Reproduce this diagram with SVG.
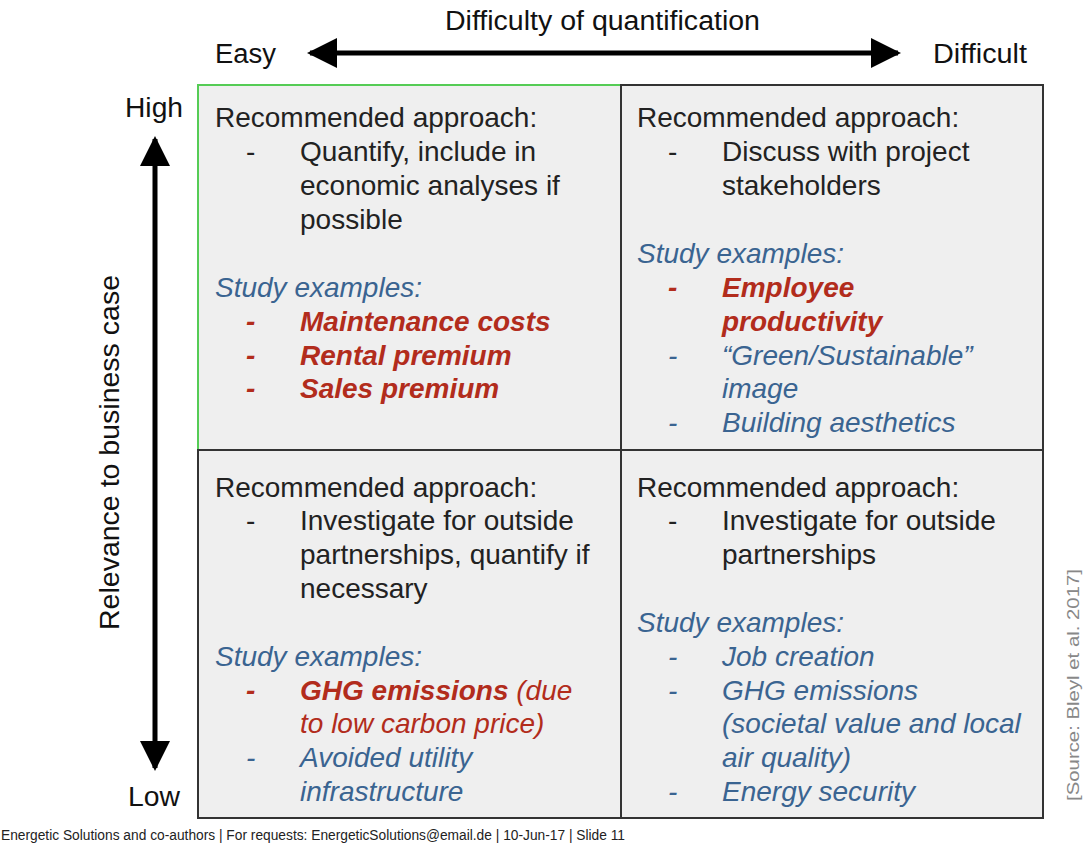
<svg xmlns="http://www.w3.org/2000/svg" width="1085" height="846" viewBox="0 0 1085 846">
  <style>
    text { font-family: "Liberation Sans", Arial, sans-serif; }
    .axis { font-size: 27px; fill: #111; }
    .head { font-size: 28px; fill: #222; }
    .ex { font-size: 28px; fill: #3a6491; font-style: italic; }
    .red { font-size: 28px; fill: #b22c1c; font-style: italic; font-weight: bold; }
    .redn { font-size: 28px; fill: #b22c1c; font-style: italic; }
    .cell { fill: #efefef; stroke: #333; stroke-width: 2; }
    .src { font-size: 17px; fill: #888; }
    .foot { font-size: 14px; fill: #222; }
  </style>
  <defs>
    <marker id="ah" viewBox="0 0 10 10" refX="9" refY="5" markerWidth="6" markerHeight="6" orient="auto-start-reverse" markerUnits="strokeWidth">
      <path d="M0,0 L10,5 L0,10 z" fill="#000"/>
    </marker>
  </defs>

  <rect width="1085" height="846" fill="#fff"/>

  <!-- axis arrows -->
  <g id="connectors">
    <line x1="310" y1="53" x2="898" y2="53" stroke="#000" stroke-width="5" marker-start="url(#ah)" marker-end="url(#ah)"/>
    <line x1="155" y1="139" x2="155" y2="768" stroke="#000" stroke-width="5" marker-start="url(#ah)" marker-end="url(#ah)"/>
  </g>

  <!-- axis labels -->
  <g id="axis-labels">
    <text class="axis" x="445" y="30" textLength="315" lengthAdjust="spacingAndGlyphs">Difficulty of quantification</text>
    <text class="axis" x="215" y="63" textLength="61" lengthAdjust="spacingAndGlyphs">Easy</text>
    <text class="axis" x="933" y="63" textLength="94" lengthAdjust="spacingAndGlyphs">Difficult</text>
    <text class="axis" x="125" y="117" textLength="58" lengthAdjust="spacingAndGlyphs">High</text>
    <text class="axis" x="128" y="806" textLength="52" lengthAdjust="spacingAndGlyphs">Low</text>
    <text class="axis" transform="translate(119,630) rotate(-90)" x="0" y="0" textLength="355" lengthAdjust="spacingAndGlyphs">Relevance to business case</text>
  </g>

  <!-- top-left quadrant -->
  <g id="q-easy-high">
    <rect class="cell" x="198" y="85" width="423" height="365"/>
    <path d="M198,450 V85 H621" fill="none" stroke="#55cc55" stroke-width="2"/>
    <text class="head" x="215" y="127">Recommended approach:</text>
    <text class="head" x="246" y="161">-</text>
    <text class="head" x="300" y="161">Quantify, include in</text>
    <text class="head" x="300" y="195">economic analyses if</text>
    <text class="head" x="300" y="229">possible</text>
    <text class="ex" x="215" y="297">Study examples:</text>
    <text class="red" x="246" y="331">-</text>
    <text class="red" x="300" y="331">Maintenance costs</text>
    <text class="red" x="246" y="365">-</text>
    <text class="red" x="300" y="365">Rental premium</text>
    <text class="red" x="246" y="398">-</text>
    <text class="red" x="300" y="398">Sales premium</text>
  </g>

  <!-- top-right quadrant -->
  <g id="q-difficult-high">
    <rect class="cell" x="621" y="85" width="422" height="365"/>
    <text class="head" x="637" y="127">Recommended approach:</text>
    <text class="head" x="668" y="161">-</text>
    <text class="head" x="722" y="161">Discuss with project</text>
    <text class="head" x="722" y="195">stakeholders</text>
    <text class="ex" x="637" y="263">Study examples:</text>
    <text class="red" x="668" y="297">-</text>
    <text class="red" x="722" y="297">Employee</text>
    <text class="red" x="722" y="331">productivity</text>
    <text class="ex" x="668" y="365">-</text>
    <text class="ex" x="722" y="365">“Green/Sustainable”</text>
    <text class="ex" x="722" y="398">image</text>
    <text class="ex" x="668" y="432">-</text>
    <text class="ex" x="722" y="432">Building aesthetics</text>
  </g>

  <!-- bottom-left quadrant -->
  <g id="q-easy-low">
    <rect class="cell" x="198" y="450" width="423" height="368"/>
    <text class="head" x="215" y="497">Recommended approach:</text>
    <text class="head" x="246" y="530">-</text>
    <text class="head" x="300" y="530">Investigate for outside</text>
    <text class="head" x="300" y="564">partnerships, quantify if</text>
    <text class="head" x="300" y="598">necessary</text>
    <text class="ex" x="215" y="666">Study examples:</text>
    <text class="red" x="246" y="700">-</text>
    <text x="300" y="700"><tspan class="red">GHG emissions</tspan><tspan class="redn"> (due</tspan></text>
    <text class="redn" x="300" y="733">to low carbon price)</text>
    <text class="ex" x="246" y="767">-</text>
    <text class="ex" x="300" y="767">Avoided utility</text>
    <text class="ex" x="300" y="801">infrastructure</text>
  </g>

  <!-- bottom-right quadrant -->
  <g id="q-difficult-low">
    <rect class="cell" x="621" y="450" width="422" height="368"/>
    <text class="head" x="637" y="497">Recommended approach:</text>
    <text class="head" x="668" y="530">-</text>
    <text class="head" x="722" y="530">Investigate for outside</text>
    <text class="head" x="722" y="564">partnerships</text>
    <text class="ex" x="637" y="632">Study examples:</text>
    <text class="ex" x="668" y="666">-</text>
    <text class="ex" x="722" y="666">Job creation</text>
    <text class="ex" x="668" y="700">-</text>
    <text class="ex" x="722" y="700">GHG emissions</text>
    <text class="ex" x="722" y="733">(societal value and local</text>
    <text class="ex" x="722" y="767">air quality)</text>
    <text class="ex" x="668" y="801">-</text>
    <text class="ex" x="722" y="801">Energy security</text>
  </g>

  <!-- source and footer -->
  <g id="source">
    <text class="src" transform="translate(1079,801) rotate(-90)" x="0" y="0" textLength="232" lengthAdjust="spacingAndGlyphs">[Source: Bleyl et al. 2017]</text>
  </g>
  <g id="footer">
    <text class="foot" x="1" y="840" textLength="624" lengthAdjust="spacingAndGlyphs">Energetic Solutions and co-authors  |  For requests:  EnergeticSolutions@email.de  |  10-Jun-17  |  Slide 11</text>
  </g>
</svg>
